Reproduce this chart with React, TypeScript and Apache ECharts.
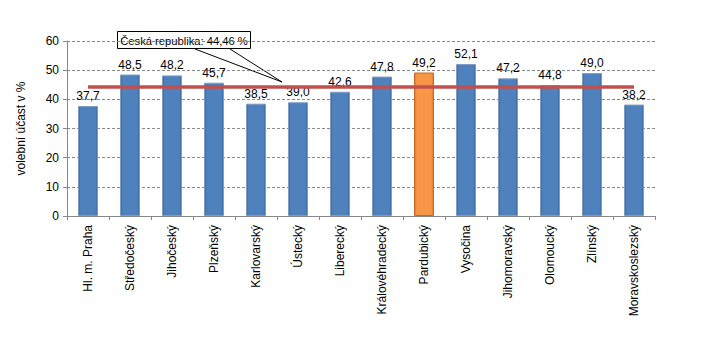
import React, { useEffect, useRef } from "react";
import * as echarts from "echarts";

const categories = [
  "Hl. m. Praha", "Středočeský", "Jihočeský", "Plzeňský", "Karlovarský", "Ústecký",
  "Liberecký", "Královéhradecký", "Pardubický", "Vysočina", "Jihomoravský",
  "Olomoucký", "Zlínský", "Moravskoslezský",
];
const turnout = [37.7, 48.5, 48.2, 45.7, 38.5, 39.0, 42.6, 47.8, 49.2, 52.1, 47.2, 44.8, 49.0, 38.2];
const highlighted = "Pardubický";
const czAverage = 44.46;
const yTicks = [0, 10, 20, 30, 40, 50, 60];

const blueGrad = new echarts.graphic.LinearGradient(0, 0, 1, 0, [
  { offset: 0, color: "#3B6AA3" },
  { offset: 0.12, color: "#4F81BD" },
  { offset: 0.88, color: "#4F81BD" },
  { offset: 1, color: "#3B6AA3" },
]);
const orangeGrad = new echarts.graphic.LinearGradient(0, 0, 1, 0, [
  { offset: 0, color: "#D9782A" },
  { offset: 0.12, color: "#F79646" },
  { offset: 0.88, color: "#F79646" },
  { offset: 1, color: "#D9782A" },
]);

const fmt = (v: number, d = 1) => v.toFixed(d).replace(".", ",");

export default function App() {
  const ref = useRef<HTMLDivElement>(null);
  useEffect(() => {
    if (!ref.current) return;
    const chart = echarts.init(ref.current, undefined, { renderer: "svg" });
    const font = "'Liberation Sans', Arial, sans-serif";
    chart.setOption({
      animation: false,
      backgroundColor: "#fff",
      textStyle: { fontFamily: font },
      grid: { left: 67, right: 50, top: 41, bottom: 142 },
      xAxis: {
        type: "category",
        data: categories,
        axisLine: { lineStyle: { color: "#888" } },
        axisTick: { show: true, lineStyle: { color: "#888" }, length: 4 },
        axisLabel: { rotate: 90, color: "#000", fontSize: 12, margin: 9, fontFamily: font },
      },
      yAxis: {
        type: "value",
        min: yTicks[0],
        max: yTicks[yTicks.length - 1],
        interval: 10,
        name: "volební účast v %",
        nameLocation: "middle",
        nameGap: 40,
        nameTextStyle: { color: "#000", fontSize: 12, fontFamily: font },
        axisLine: { show: true, lineStyle: { color: "#888" } },
        axisTick: { show: true, lineStyle: { color: "#888" }, length: 4 },
        axisLabel: { color: "#000", fontSize: 12, margin: 8, fontFamily: font },
        splitLine: { lineStyle: { color: "#888", type: [3, 2], width: 1 } },
      },
      series: [
        {
          type: "bar",
          barWidth: 20,
          data: turnout.map((v, i) => ({
            value: v,
            itemStyle: {
              color: categories[i] === highlighted ? orangeGrad : blueGrad,
              borderColor: categories[i] === highlighted ? "#C46A25" : "#7F9BBF",
              borderWidth: 1,
            },
          })),
          label: {
            show: true,
            position: "top",
            distance: 4,
            color: "#000",
            fontSize: 12,
            fontFamily: font,
            formatter: (p: any) => fmt(p.value),
          },
          markLine: {
            silent: true,
            symbol: "none",
            label: { show: false },
            lineStyle: { color: "#C0504D", width: 3.5, type: "solid" },
            data: [[{ coord: [0, czAverage] }, { coord: [categories.length - 1, czAverage] }]],
            z: 10,
          },
        },
      ],
      graphic: [
        { type: "line", shape: { x1: 195, y1: 49, x2: 282, y2: 82 }, style: { stroke: "#000", lineWidth: 1 } },
        { type: "line", shape: { x1: 230, y1: 49, x2: 282, y2: 82 }, style: { stroke: "#000", lineWidth: 1 } },
        {
          type: "rect",
          shape: { x: 117.5, y: 31.5, width: 133, height: 17 },
          style: { fill: "#fff", stroke: "#000", lineWidth: 1 },
        },
        {
          type: "text",
          x: 184,
          y: 40.5,
          style: {
            text: "Česká republika: " + fmt(czAverage, 2) + " %",
            fill: "#000",
            fontSize: 11.2,
            fontFamily: font,
            align: "center",
            verticalAlign: "middle",
          },
        },
      ],
    });
    return () => chart.dispose();
  }, []);
  return <div ref={ref} style={{ position: "fixed", left: 0, top: 0, width: 705, height: 358 }} />;
}
